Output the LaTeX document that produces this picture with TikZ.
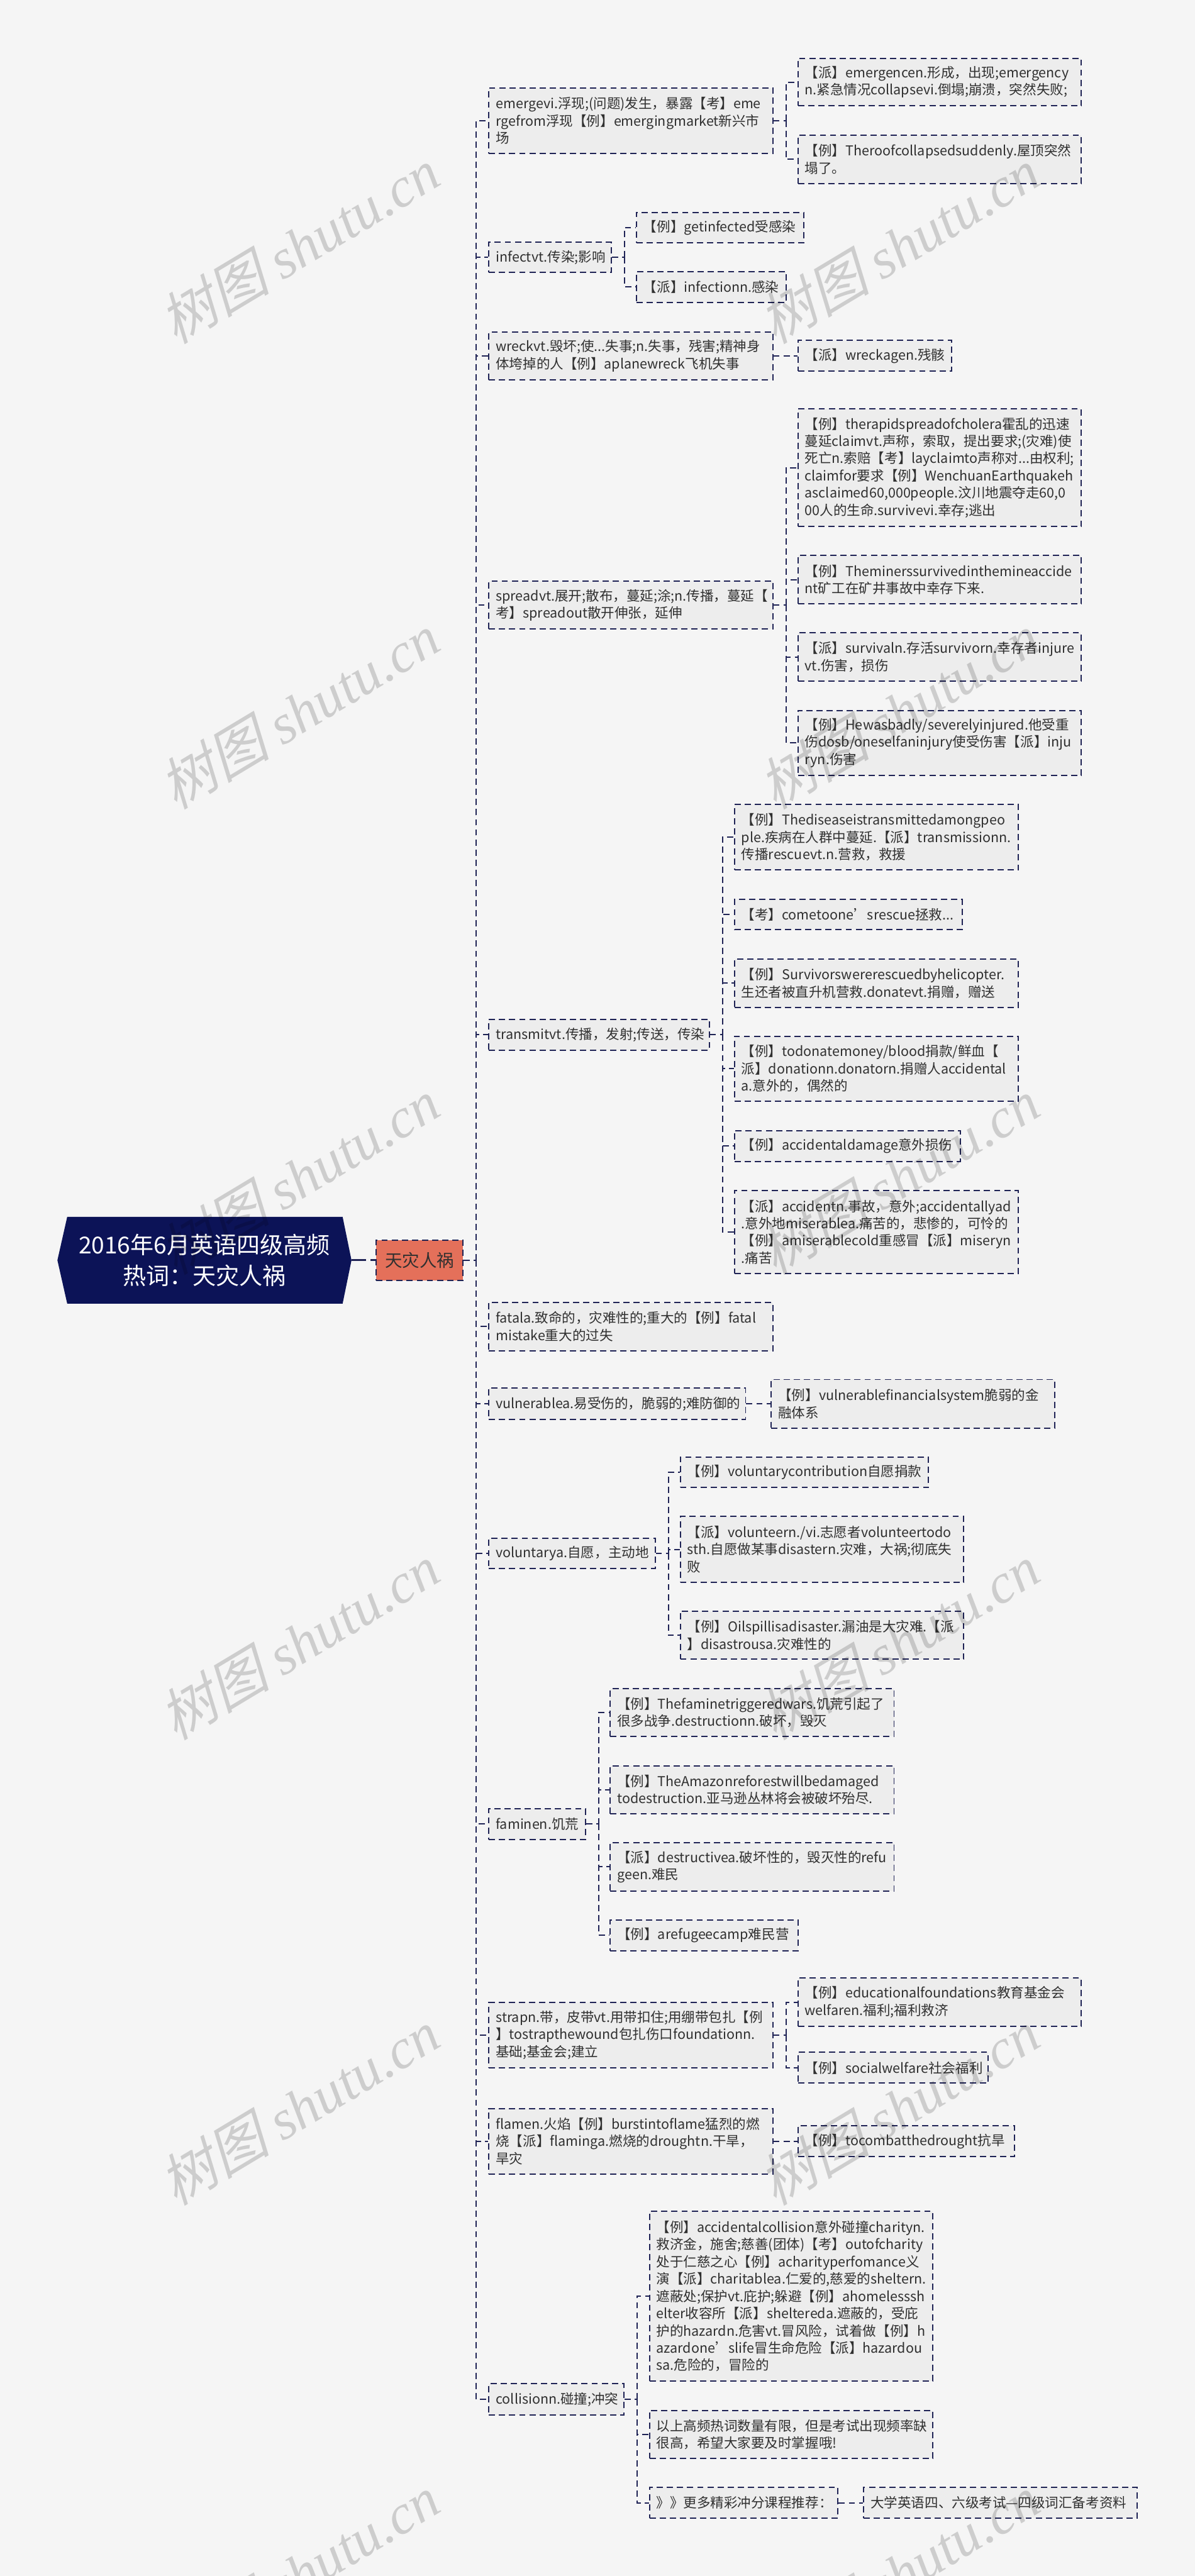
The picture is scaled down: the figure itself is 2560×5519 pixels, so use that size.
\documentclass[tikz,border=0pt]{standalone}
\usepackage{fontspec}
\setmainfont{Noto Sans CJK SC}
\newfontfamily\wmcjk[FakeSlant=0.25]{Noto Sans CJK SC}
\newfontfamily\wmlat{Liberation Serif}
\definecolor{bgc}{HTML}{F5F5F5}
\definecolor{boxc}{HTML}{EDEDED}
\definecolor{linec}{HTML}{1F2355}
\definecolor{rootc}{HTML}{0C1357}
\definecolor{tzc}{HTML}{E4705A}
\definecolor{textc}{HTML}{303030}
\newcommand\boxfont{\fontsize{8.7pt}{11.1pt}\selectfont}
\tikzset{
  box/.style={draw=linec, line width=0.8pt, dash pattern=on 4pt off 2.5pt, fill=boxc, anchor=west, align=left, inner xsep=4.5pt, inner ysep=0pt, text=textc, font=\boxfont},
  conn/.style={draw=linec, line width=0.8pt, dash pattern=on 4pt off 2.5pt},
  wm/.style={text=black, text opacity=0.16, rotate=31, font=\fontsize{36pt}{40pt}\selectfont, inner sep=0pt},
}
\begin{document}
\begin{tikzpicture}[x=0.3pt, y=-0.3pt]
\fill[bgc] (0,0) rectangle (2560,5519);
\useasboundingbox (0,0) rectangle (2560,5519);
% root
\fill[rootc] (123,2700) -- (144,2607) -- (734,2607) -- (753,2700) -- (734,2793) -- (144,2793) -- cycle;
\node[text=white, align=center, font=\fontsize{15pt}{19.8pt}\selectfont, minimum width=189pt, minimum height=55.8pt, inner sep=0pt] (root) at (438,2700) {2016年6月英语四级高频\\热词：天灾人祸};
\node[draw=linec, line width=0.8pt, dash pattern=on 4pt off 2.5pt, fill=tzc, text=textc, font=\fontsize{11.1pt}{13pt}\selectfont, minimum width=55.8pt, minimum height=25.8pt, inner sep=0pt] (tz) at (899,2700) {天灾人祸};

% level 1
\node[box, text width=173.4pt, minimum height=42.3pt] (n1) at (1046,258.5) {emergevi.浮现;(问题)发生，暴露【考】eme\\rgefrom浮现【例】emergingmarket新兴市\\场};
\node[box, text width=69.6pt, minimum height=19.5pt] (n2) at (1046,551.5) {infectvt.传染;影响};
\node[box, text width=173.4pt, minimum height=30.9pt] (n3) at (1046,762.5) {wreckvt.毁坏;使...失事;n.失事，残害;精神身\\体垮掉的人【例】aplanewreck飞机失事};
\node[box, text width=173.4pt, minimum height=30.9pt] (n4) at (1046,1296.5) {spreadvt.展开;散布，蔓延;涂;n.传播，蔓延【\\考】spreadout散开伸张，延伸};
\node[box, text width=132.6pt, minimum height=19.8pt] (n5) at (1046,2217) {transmitvt.传播，发射;传送，传染};
\node[box, text width=173.4pt, minimum height=31.2pt] (n6) at (1046,2842) {fatala.致命的，灾难性的;重大的【例】fatal\\mistake重大的过失};
\node[box, text width=156pt, minimum height=20.1pt] (n7) at (1046,3007.5) {vulnerablea.易受伤的，脆弱的;难防御的};
\node[box, text width=97.8pt, minimum height=19.5pt] (n8) at (1046,3328.5) {voluntarya.自愿，主动地};
\node[box, text width=53.1pt, minimum height=19.8pt] (n9) at (1046,3908) {faminen.饥荒};
\node[box, text width=173.4pt, minimum height=42pt] (n10) at (1046,4360) {strapn.带，皮带vt.用带扣住;用绷带包扎【例\\】tostrapthewound包扎伤口foundationn.\\基础;基金会;建立};
\node[box, text width=173.4pt, minimum height=42pt] (n11) at (1046,4587.5) {flamen.火焰【例】burstintoflame猛烈的燃\\烧【派】flaminga.燃烧的droughtn.干旱，\\旱灾};
\node[box, text width=77.7pt, minimum height=20.1pt] (n12) at (1046,5140.5) {collisionn.碰撞;冲突};

% level 2
\node[box, text width=173.1pt, minimum height=30.6pt] (n1a) at (1708,176) {【派】emergencen.形成，出现;emergency\\n.紧急情况collapsevi.倒塌;崩溃，突然失败;};
\node[box, text width=173.1pt, minimum height=30.9pt] (n1b) at (1708,341.5) {【例】Theroofcollapsedsuddenly.屋顶突然\\塌了。};
\node[box, text width=98.7pt, minimum height=19.5pt] (n2a) at (1362,487.5) {【例】getinfected受感染};
\node[box, text width=87.3pt, minimum height=19.8pt] (n2b) at (1362,615) {【派】infectionn.感染};
\node[box, text width=89.7pt, minimum height=19.8pt] (n3a) at (1708,762.5) {【派】wreckagen.残骸};
\node[box, text width=173.1pt, minimum height=75.6pt] (n4a) at (1708,1002) {【例】therapidspreadofcholera霍乱的迅速\\蔓延claimvt.声称，索取，提出要求;(灾难)使\\死亡n.索赔【考】layclaimto声称对...由权利;\\claimfor要求【例】WenchuanEarthquakeh\\asclaimed60,000people.汶川地震夺走60,0\\00人的生命.survivevi.幸存;逃出};
\node[box, text width=173.1pt, minimum height=31.2pt] (n4b) at (1708,1242) {【例】Theminerssurvivedinthemineaccide\\nt矿工在矿井事故中幸存下来.};
\node[box, text width=173.1pt, minimum height=30.9pt] (n4c) at (1708,1407.5) {【派】survivaln.存活survivorn.幸存者injure\\vt.伤害，损伤};
\node[box, text width=173.1pt, minimum height=41.7pt] (n4d) at (1708,1591.5) {【例】Hewasbadly/severelyinjured.他受重\\伤dosb/oneselfaninjury使受伤害【派】inju\\ryn.伤害};
\node[box, text width=173.4pt, minimum height=42.3pt] (n5a) at (1572,1793.5) {【例】Thediseaseistransmittedamongpeo\\ple.疾病在人群中蔓延.【派】transmissionn.\\传播rescuevt.n.营救，救援};
\node[box, text width=137.4pt, minimum height=19.5pt] (n5b) at (1572,1959.5) {【考】cometoone’srescue拯救...};
\node[box, text width=173.4pt, minimum height=30.9pt] (n5c) at (1572,2106.5) {【例】Survivorswererescuedbyhelicopter.\\生还者被直升机营救.donatevt.捐赠，赠送};
\node[box, text width=173.4pt, minimum height=41.7pt] (n5d) at (1572,2289.5) {【例】todonatemoney/blood捐款/鲜血【\\派】donationn.donatorn.捐赠人accidental\\a.意外的，偶然的};
\node[box, text width=136.2pt, minimum height=19.8pt] (n5e) at (1572,2455) {【例】accidentaldamage意外损伤};
\node[box, text width=173.4pt, minimum height=53.1pt] (n5f) at (1572,2639.5) {【派】accidentn.事故，意外;accidentallyad\\.意外地miserablea.痛苦的，悲惨的，可怜的\\【例】amiserablecold重感冒【派】miseryn\\.痛苦};
\node[box, text width=173.1pt, minimum height=31.2pt] (n7a) at (1651,3007.5) {【例】vulnerablefinancialsystem脆弱的金\\融体系};
\node[box, text width=150.6pt, minimum height=19.5pt] (n8a) at (1456,3154.5) {【例】voluntarycontribution自愿捐款};
\node[box, text width=173.1pt, minimum height=42.3pt] (n8b) at (1456,3319.5) {【派】volunteern./vi.志愿者volunteertodo\\sth.自愿做某事disastern.灾难，大祸;彻底失\\败};
\node[box, text width=173.1pt, minimum height=30.9pt] (n8c) at (1456,3503.5) {【例】Oilspillisadisaster.漏油是大灾难.【派\\】disastrousa.灾难性的};
\node[box, text width=173.4pt, minimum height=30.6pt] (n9a) at (1306,3669) {【例】Thefaminetriggeredwars.饥荒引起了\\很多战争.destructionn.破坏，毁灭};
\node[box, text width=173.4pt, minimum height=30.9pt] (n9b) at (1306,3834.5) {【例】TheAmazonreforestwillbedamaged\\todestruction.亚马逊丛林将会被破坏殆尽.};
\node[box, text width=173.4pt, minimum height=30.9pt] (n9c) at (1306,3999.5) {【派】destructivea.破坏性的，毁灭性的refu\\geen.难民};
\node[box, text width=111.6pt, minimum height=19.8pt] (n9d) at (1306,4146) {【例】arefugeecamp难民营};
\node[box, text width=173.1pt, minimum height=30.9pt] (n10a) at (1708,4289.5) {【例】educationalfoundations教育基金会\\welfaren.福利;福利救济};
\node[box, text width=113.4pt, minimum height=19.8pt] (n10b) at (1708,4430) {【例】socialwelfare社会福利};
\node[box, text width=130.2pt, minimum height=19.8pt] (n11a) at (1708,4587.5) {【例】tocombatthedrought抗旱};
\node[box, text width=173.1pt, minimum height=108.9pt] (n12a) at (1390,4919.5) {【例】accidentalcollision意外碰撞charityn.\\救济金，施舍;慈善(团体)【考】outofcharity\\处于仁慈之心【例】acharityperfomance义\\演【派】charitablea.仁爱的,慈爱的sheltern.\\遮蔽处;保护vt.庇护;躲避【例】ahomelesssh\\elter收容所【派】sheltereda.遮蔽的，受庇\\护的hazardn.危害vt.冒风险，试着做【例】h\\azardone’slife冒生命危险【派】hazardou\\sa.危险的，冒险的};
\node[box, text width=173.1pt, minimum height=30.9pt] (n12b) at (1390,5215.5) {以上高频热词数量有限，但是考试出现频率缺\\很高，希望大家要及时掌握哦!};
\node[box, text width=112.2pt, minimum height=19.8pt] (n12c) at (1390,5362) {》》更多精彩冲分课程推荐：};
\node[box, text width=166.8pt, minimum height=19.8pt] (n12d) at (1849,5362) {大学英语四、六级考试---四级词汇备考资料};

% connectors
\draw[draw=linec, line width=1.2pt, dash pattern=on 9pt off 3pt] (root.east) -- (tz.west);
\coordinate (j0) at (1020,2700);
\draw[conn] (tz.east) -- (j0);
\foreach \n in {n1,n2,n3,n4,n5,n6,n7,n8,n9,n10,n11,n12} \draw[conn] (j0) |- (\n.west);
\draw[conn] (n1.east) -- ++(27,0) coordinate (j1);
\foreach \c in {n1a,n1b} \draw[conn] (j1) |- (\c.west);
\draw[conn] (n2.east) -- ++(27,0) coordinate (j2);
\foreach \c in {n2a,n2b} \draw[conn] (j2) |- (\c.west);
\draw[conn] (n3.east) -- (n3a.west);
\draw[conn] (n4.east) -- ++(27,0) coordinate (j4);
\foreach \c in {n4a,n4b,n4c,n4d} \draw[conn] (j4) |- (\c.west);
\draw[conn] (n5.east) -- ++(27,0) coordinate (j5);
\foreach \c in {n5a,n5b,n5c,n5d,n5e,n5f} \draw[conn] (j5) |- (\c.west);
\draw[conn] (n7.east) -- (n7a.west);
\draw[conn] (n8.east) -- ++(27,0) coordinate (j8);
\foreach \c in {n8a,n8b,n8c} \draw[conn] (j8) |- (\c.west);
\draw[conn] (n9.east) -- ++(27,0) coordinate (j9);
\foreach \c in {n9a,n9b,n9c,n9d} \draw[conn] (j9) |- (\c.west);
\draw[conn] (n10.east) -- ++(27,0) coordinate (j10);
\foreach \c in {n10a,n10b} \draw[conn] (j10) |- (\c.west);
\draw[conn] (n11.east) -- (n11a.west);
\draw[conn] (n12.east) -- ++(27,0) coordinate (j12);
\foreach \c in {n12a,n12b,n12c} \draw[conn] (j12) |- (\c.west);
\draw[conn] (n12c.east) -- (n12d.west);

% watermarks
\foreach \y [count=\i] in {527,1524,2521,3518,4515,5512} {
  \node[wm] (wl\i) at (640,\y) {{\wmcjk 树图} {\wmlat\itshape shutu.cn}};
  \node[wm] (wr\i) at (1925,\y) {{\wmcjk 树图} {\wmlat\itshape shutu.cn}};
}
\end{tikzpicture}
\end{document}
